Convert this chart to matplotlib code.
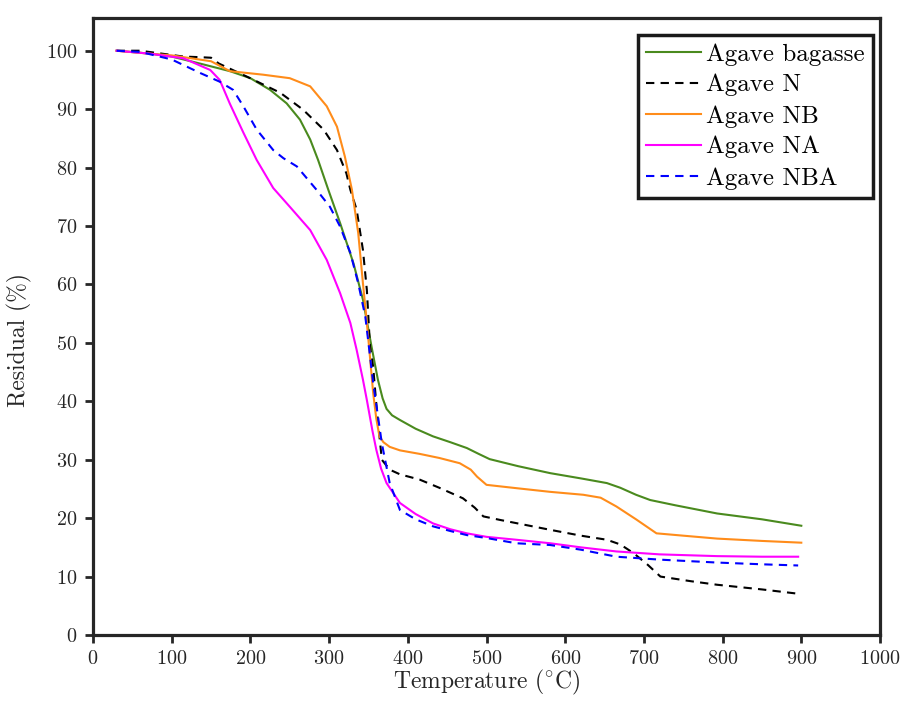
import matplotlib
matplotlib.use("Agg")
import matplotlib.pyplot as plt

# ---- data ----
T_bag = [30, 72, 100, 136, 174, 200, 225, 246, 263, 276, 286, 299, 314, 331, 343, 354, 362, 368, 373, 380, 390, 410, 432, 454, 475, 490, 504, 540, 581, 620, 653, 670, 690, 708, 740, 793, 850, 900]
R_bag = [100, 99.5, 99.0, 97.8, 96.5, 95.3, 93.3, 91.0, 88.2, 84.8, 81.3, 76.2, 70.5, 63.6, 57.4, 49.3, 43.7, 40.5, 38.7, 37.6, 36.8, 35.3, 34.0, 33.0, 32.0, 31.0, 30.1, 28.9, 27.7, 26.8, 26.0, 25.2, 24.0, 23.1, 22.2, 20.8, 19.8, 18.7]

T_N = [30, 60, 115, 135, 150, 160, 195, 238, 267, 293, 310, 322, 327, 335, 343, 348, 352, 356, 360, 364, 367, 377, 390, 415, 440, 470, 485, 496, 517, 581, 620, 653, 670, 687, 705, 721, 760, 793, 850, 900]
R_N = [100, 100, 99.0, 98.9, 98.8, 97.8, 95.6, 92.8, 89.9, 86.5, 83.0, 79.0, 76.2, 72.8, 65.9, 59.0, 49.3, 45.9, 39.5, 34.0, 30.0, 28.3, 27.5, 26.6, 25.2, 23.4, 21.8, 20.3, 19.7, 18.0, 17.0, 16.3, 15.5, 14.0, 12.0, 10.0, 9.2, 8.6, 7.8, 7.0]

T_NB = [30, 72, 100, 150, 174, 216, 250, 276, 297, 310, 320, 329, 337, 343, 348, 351, 356, 360, 364, 369, 377, 390, 415, 440, 466, 480, 488, 500, 540, 581, 623, 645, 665, 690, 716, 750, 793, 850, 900]
R_NB = [100, 99.5, 99.2, 98.2, 96.5, 95.9, 95.3, 93.9, 90.5, 87.0, 81.9, 76.2, 68.8, 60.2, 53.4, 49.0, 41.4, 37.0, 34.0, 33.0, 32.2, 31.6, 31.0, 30.3, 29.4, 28.3, 27.1, 25.7, 25.1, 24.5, 24.0, 23.5, 22.0, 19.8, 17.4, 17.0, 16.5, 16.1, 15.8]

T_NA = [30, 72, 115, 149, 161, 174, 191, 208, 229, 250, 276, 297, 314, 327, 335, 343, 348, 355, 360, 366, 373, 390, 410, 432, 454, 475, 500, 538, 581, 620, 665, 720, 793, 850, 896]
R_NA = [100, 99.5, 98.7, 96.7, 95.0, 90.9, 86.0, 81.3, 76.5, 73.3, 69.3, 64.2, 58.5, 53.4, 48.8, 43.7, 40.2, 35.0, 31.7, 28.5, 26.0, 22.6, 20.7, 19.1, 18.1, 17.4, 16.8, 16.3, 15.7, 15.0, 14.3, 13.8, 13.5, 13.4, 13.4]

T_NBA = [30, 60, 100, 136, 161, 178, 191, 208, 229, 242, 259, 284, 301, 314, 327, 337, 346, 350, 356, 362, 367, 377, 390, 410, 432, 454, 475, 500, 538, 581, 620, 665, 720, 793, 850, 896]
R_NBA = [100, 99.8, 98.5, 96.2, 94.7, 93.3, 90.5, 86.5, 83.0, 81.6, 80.2, 76.2, 73.3, 69.9, 65.4, 60.2, 54.5, 50.0, 43.1, 37.5, 32.8, 26.0, 21.4, 19.8, 18.6, 17.8, 17.1, 16.6, 15.7, 15.4, 14.6, 13.4, 12.9, 12.4, 12.1, 11.9]

labels = ["Agave bagasse", "Agave N", "Agave NB", "Agave NA", "Agave NBA"]
x_ticks = list(range(0, 1001, 100))
y_ticks = list(range(0, 101, 10))

# ---- style ----
plt.rcParams["font.family"] = ["cmr10", "DejaVu Serif"]
plt.rcParams["mathtext.fontset"] = "cm"
plt.rcParams["axes.formatter.use_mathtext"] = True

fig = plt.figure(figsize=(9.05, 7.01), dpi=100)
ax = fig.add_axes([93 / 905, 1 - 635 / 701, 787 / 905, 617 / 701])

ax.plot(T_bag, R_bag, color="#4a8a1e", lw=1.5, label=labels[0])
ax.plot(T_N, R_N, color="black", lw=1.5, ls=(0, (4, 3)), label=labels[1])
ax.plot(T_NB, R_NB, color="#ff8c1a", lw=1.5, label=labels[2])
ax.plot(T_NA, R_NA, color="#ff00ff", lw=1.5, label=labels[3])
ax.plot(T_NBA, R_NBA, color="#0000ff", lw=1.5, ls=(0, (4, 3)), label=labels[4])

ax.set_xlim(0, 1000)
ax.set_ylim(0, 105.6)
ax.set_xticks(x_ticks)
ax.set_yticks(y_ticks)
ax.tick_params(direction="out", length=6, width=2.0, labelsize=14.5, pad=5,
               color="#262626", labelcolor="#262626")
for s in ax.spines.values():
    s.set_linewidth(2.3)
    s.set_color("#262626")

ax.set_xlabel("Temperature ($^{\\circ}$C)", fontsize=17, color="#262626")
ax.set_ylabel("Residual (%)", fontsize=17, color="#262626")
ax.xaxis.set_label_coords(0.5, -0.054)
ax.yaxis.set_label_coords(-0.078, 0.478)

leg = ax.legend(loc="upper right", bbox_to_anchor=((873 - 93) / 787, (635 - 35) / 617),
                fontsize=18, frameon=True, fancybox=False,
                handlelength=2.2, handletextpad=0.2, borderpad=0.32, labelspacing=0.34,
                borderaxespad=0.0)
leg.get_frame().set_edgecolor("#1a1a1a")
leg.get_frame().set_linewidth(2.5)
leg.get_frame().set_alpha(1)

fig.savefig("out.png", dpi=100)
